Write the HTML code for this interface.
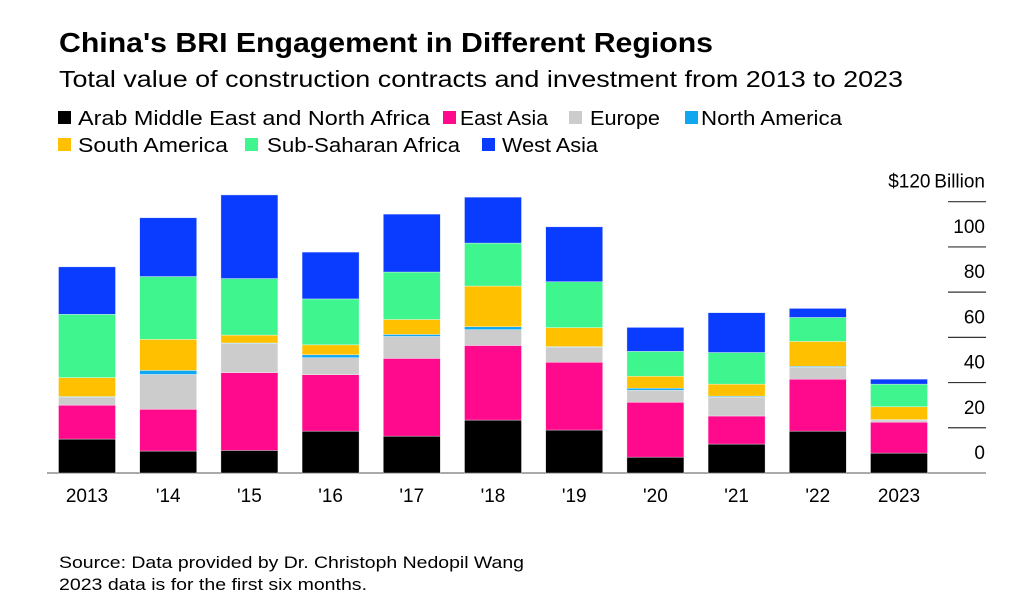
<!DOCTYPE html>
<html><head><meta charset="utf-8">
<style>
html,body{margin:0;padding:0;background:#fff;}
svg{display:block;font-family:"Liberation Sans",Arial,sans-serif;}
</style></head>
<body>
<svg id="chart" width="1026" height="612" viewBox="0 0 1026 612">
<text x="59" y="52" font-size="28" font-weight="bold" textLength="654" lengthAdjust="spacingAndGlyphs">China's BRI Engagement in Different Regions</text>
<text x="59" y="87" font-size="23" textLength="844" lengthAdjust="spacingAndGlyphs">Total value of construction contracts and investment from 2013 to 2023</text>
<g id="legend"></g>
<g id="axis"></g>
<g id="bars"></g>
<g id="xlabels"></g>
<text x="59" y="568" font-size="17" textLength="465" lengthAdjust="spacingAndGlyphs">Source: Data provided by Dr. Christoph Nedopil Wang</text>
<text x="59" y="590" font-size="17" textLength="308" lengthAdjust="spacingAndGlyphs">2023 data is for the first six months.</text>
</svg>
<script>
const categories = ["2013","'14","'15","'16","'17","'18","'19","'20","'21","'22","2023"];
const seriesNames = ["Arab Middle East and North Africa","East Asia","Europe","North America","South America","Sub-Saharan Africa","West Asia"];
const seriesColors = ["#000000","#ff0a8c","#cccccc","#0fa8f0","#ffc000","#3ef58e","#0a3cff"];
const arab = [15,9.7,10,18.5,16.3,23.4,19,7,12.8,18.5,8.8];
const eastAsia = [15,18.5,34.4,25,34.4,33,30,24.3,12.4,23,13.7];
const europe = [3.5,15.4,12.8,7.5,9.7,7,6.6,5.3,8.4,5.3,0.9];
const northAmerica = [0.3,1.8,0.3,1.3,0.9,1.3,0.3,0.9,0.4,0.4,0.2];
const southAmerica = [8.4,13.7,3.5,4.4,6.6,18,8.4,5.3,5.3,11,5.7];
const subSaharan = [28,27.8,25,20.3,21,19,20.3,11,14,10.6,10];
const westAsia = [21,26,37,20.7,25.6,20.3,24.3,10.6,17.6,4,2.2];
const series = [arab,eastAsia,europe,northAmerica,southAmerica,subSaharan,westAsia];
const yTicks = [0,20,40,60,80,100,120];

const NS="http://www.w3.org/2000/svg";
const y0=473, pxPer=(473-201.7)/120;
function yScale(v){return y0-v*pxPer;}
function xCenter(i){return 87+i*81.2;}
const barW=57;
function mk(tag,attrs,parent){const e=document.createElementNS(NS,tag);for(const k in attrs)e.setAttribute(k,attrs[k]);parent.appendChild(e);return e;}

// legend layout: [squareX, rowY, textStart, textWidth]
const lg=document.getElementById('legend');
const legPos=[[58,118,78,352],[443,118,460,88],[569,118,590,70],[685,118,701,141],[58,145,78,150],[245,145,267,193],[482,145,502,96]];
seriesNames.forEach((n,i)=>{
  const p=legPos[i];
  const g=mk('g',{},lg);
  
  
  mk('rect',{x:p[0],y:p[1]-7,width:13,height:13,fill:seriesColors[i]},g);
  const t=mk('text',{x:p[2],y:p[1]+7,'font-size':20,textLength:p[3],lengthAdjust:'spacingAndGlyphs'},g);
  t.textContent=n;
});

// axis
const ax=document.getElementById('axis');
yTicks.forEach(v=>{
  const y=yScale(v);
  if(v>0){
    const l=mk('line',{x1:948,x2:986,y1:y,y2:y,stroke:'#333','stroke-width':1.2},ax);
    
    
  }
  const t=mk('text',{x:985,y:y-14,'font-size':19,'text-anchor':'end'},ax);
  
  
  t.textContent = v===120 ? '$120\u2009Billion' : String(v);
});
const base=mk('line',{x1:47,x2:986,y1:y0,y2:y0,stroke:'#777','stroke-width':1.2},ax);



// bars
const bg=document.getElementById('bars');
const xl=document.getElementById('xlabels');
categories.forEach((c,i)=>{
  let cum=0;
  series.forEach((s,j)=>{
    const v=s[i];
    const yTop=yScale(cum+v), yBot=yScale(cum);
    const r=mk('rect',{x:xCenter(i)-barW/2,y:yTop,width:barW,height:Math.max(0,yBot-yTop),fill:seriesColors[j],stroke:'rgba(255,255,255,0.6)','stroke-width':0.6},bg);
    
    
    cum+=v;
  });
  const t=mk('text',{x:xCenter(i),y:502,'font-size':19,'text-anchor':'middle'},xl);
  
  
  t.textContent=c;
});
</script>
</body></html>
